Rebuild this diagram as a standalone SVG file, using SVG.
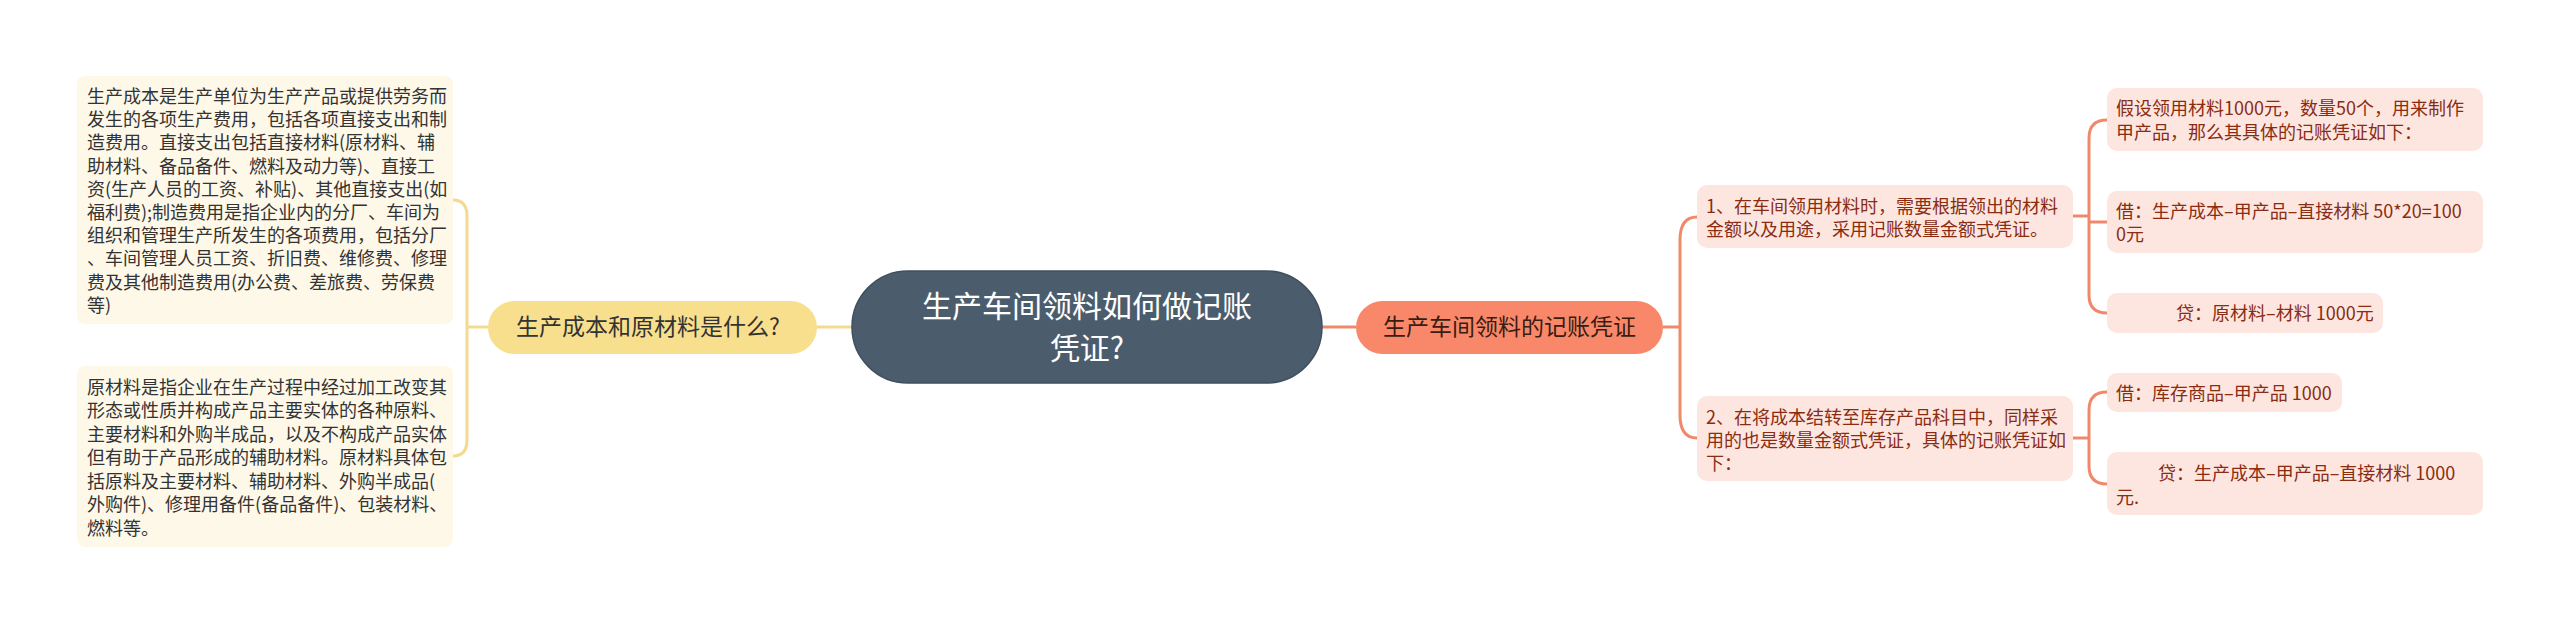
<svg xmlns="http://www.w3.org/2000/svg" width="2560" height="620" viewBox="0 0 2560 620">
<style>
.t{font-family:"Noto Sans CJK SC","Noto Sans",sans-serif;}
.lt{font-size:18px;fill:#333333;}
.rt{font-size:18px;fill:#8a2c12;}
.lbox{fill:#fef8e8;}
.rbox{fill:#fde6df;}
.yc{fill:none;stroke:#f4da8e;stroke-width:3;}
.oc{fill:none;stroke:#ee8a6b;stroke-width:3;}
</style>
<rect width="2560" height="620" fill="#ffffff"/>
<g id="connectors">
<path class="yc" d="M453,200 Q467,200 467,216 V440 Q467,456 453,456"/>
<path class="yc" d="M467,327 H488"/>
<path class="yc" d="M817,327 H852"/>
<path class="oc" d="M1322,327 H1356"/>
<path class="oc" d="M1663,327 H1680"/>
<path class="oc" d="M1697,217 Q1680,217 1680,240 V415 Q1680,438 1697,438"/>
<path class="oc" d="M2073,216 H2089"/>
<path class="oc" d="M2107,120 Q2089,120 2089,138 V295 Q2089,313 2107,313"/>
<path class="oc" d="M2089,222 H2107"/>
<path class="oc" d="M2073,438 H2089"/>
<path class="oc" d="M2107,392 Q2089,392 2089,410 V466 Q2089,484 2107,484"/>
</g>
<g id="root">
<rect x="852" y="271" width="470" height="112" rx="56" fill="#4b5d6d" stroke="#3f4f5d" stroke-width="1.5"/>
<text class="t" x="1087" y="317" font-size="30" fill="#ffffff" text-anchor="middle">生产车间领料如何做记账</text>
<text class="t" x="1087" y="359" font-size="30" fill="#ffffff" text-anchor="middle">凭证?</text>
</g>
<g id="branch-left">
<rect x="488" y="301" width="329" height="53" rx="26.5" fill="#f8df8e"/>
<text class="t" x="648" y="335" font-size="23" fill="#333333" text-anchor="middle">生产成本和原材料是什么?</text>
</g>
<g id="leaf-cost">
<rect class="lbox" x="77" y="76" width="376" height="248" rx="8"/>
<text class="t lt">
<tspan x="87" y="103">生产成本是生产单位为生产产品或提供劳务而</tspan>
<tspan x="87" y="126.2">发生的各项生产费用，包括各项直接支出和制</tspan>
<tspan x="87" y="149.4">造费用。直接支出包括直接材料(原材料、辅</tspan>
<tspan x="87" y="172.6">助材料、备品备件、燃料及动力等)、直接工</tspan>
<tspan x="87" y="195.8">资(生产人员的工资、补贴)、其他直接支出(如</tspan>
<tspan x="87" y="219">福利费);制造费用是指企业内的分厂、车间为</tspan>
<tspan x="87" y="242.2">组织和管理生产所发生的各项费用，包括分厂</tspan>
<tspan x="87" y="265.4">、车间管理人员工资、折旧费、维修费、修理</tspan>
<tspan x="87" y="288.6">费及其他制造费用(办公费、差旅费、劳保费</tspan>
<tspan x="87" y="311.8">等)</tspan>
</text>
</g>
<g id="leaf-material">
<rect class="lbox" x="77" y="366" width="376" height="181" rx="8"/>
<text class="t lt">
<tspan x="87" y="393.5">原材料是指企业在生产过程中经过加工改变其</tspan>
<tspan x="87" y="417">形态或性质并构成产品主要实体的各种原料、</tspan>
<tspan x="87" y="440.5">主要材料和外购半成品，以及不构成产品实体</tspan>
<tspan x="87" y="464">但有助于产品形成的辅助材料。原材料具体包</tspan>
<tspan x="87" y="487.5">括原料及主要材料、辅助材料、外购半成品(</tspan>
<tspan x="87" y="511">外购件)、修理用备件(备品备件)、包装材料、</tspan>
<tspan x="87" y="534.5">燃料等。</tspan>
</text>
</g>
<g id="branch-right">
<rect x="1356" y="301" width="307" height="53" rx="26.5" fill="#f9886a"/>
<text class="t" x="1509.5" y="335" font-size="23" fill="#3a1c10" text-anchor="middle">生产车间领料的记账凭证</text>
</g>
<g id="step-1">
<rect class="rbox" x="1697" y="185" width="376" height="63" rx="10"/>
<text class="t rt">
<tspan x="1706" y="212.5">1、在车间领用材料时，需要根据领出的材料</tspan>
<tspan x="1706" y="235.5">金额以及用途，采用记账数量金额式凭证。</tspan>
</text>
</g>
<g id="step-2">
<rect class="rbox" x="1697" y="396" width="376" height="85" rx="10"/>
<text class="t rt">
<tspan x="1706" y="423.5">2、在将成本结转至库存产品科目中，同样采</tspan>
<tspan x="1706" y="446.5">用的也是数量金额式凭证，具体的记账凭证如</tspan>
<tspan x="1706" y="469.5">下：</tspan>
</text>
</g>
<g id="step-1a">
<rect class="rbox" x="2107" y="88" width="376" height="63" rx="10"/>
<text class="t rt">
<tspan x="2116" y="114.5">假设领用材料1000元，数量50个，用来制作</tspan>
<tspan x="2116" y="138.5">甲产品，那么其具体的记账凭证如下：</tspan>
</text>
</g>
<g id="step-1b">
<rect class="rbox" x="2107" y="191" width="376" height="62" rx="10"/>
<text class="t rt">
<tspan x="2116" y="217.5">借：生产成本–甲产品–直接材料 50*20=100</tspan>
<tspan x="2116" y="240.5">0元</tspan>
</text>
</g>
<g id="step-1c">
<rect class="rbox" x="2107" y="293" width="276" height="40" rx="10"/>
<text class="t rt" x="2176" y="319.5">贷：原材料–材料 1000元</text>
</g>
<g id="step-2a">
<rect class="rbox" x="2107" y="373" width="235" height="39" rx="10"/>
<text class="t rt" x="2116" y="399.5">借：库存商品–甲产品 1000</text>
</g>
<g id="step-2b">
<rect class="rbox" x="2107" y="452" width="376" height="63" rx="10"/>
<text class="t rt">
<tspan x="2158" y="479.5">贷：生产成本–甲产品–直接材料 1000</tspan>
<tspan x="2116" y="503.5">元.</tspan>
</text>
</g>
</svg>
